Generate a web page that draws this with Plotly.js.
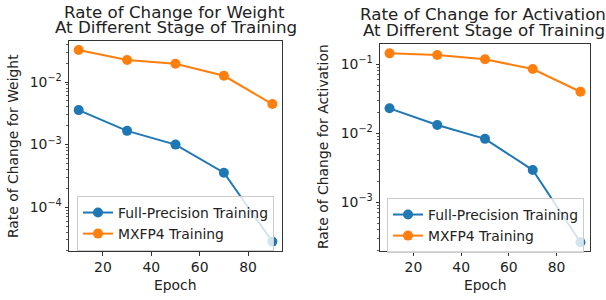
<!DOCTYPE html>
<html><head><meta charset="utf-8">
<script src="https://cdn.plot.ly/plotly-3.0.1.min.js"></script>
<style>html,body{margin:0;padding:0;background:#fff}#chart{width:606px;height:300px}</style>
</head><body><div id="chart"></div>
<script>
const epochs = [10, 30, 50, 70, 90];
const weightFull = [3.56e-3, 1.66e-3, 1.0e-3, 3.56e-4, 2.82e-5];
const weightMx = [3.25e-2, 2.25e-2, 1.96e-2, 1.26e-2, 4.45e-3];
const actFull = [2.3e-2, 1.32e-2, 8.3e-3, 2.93e-3, 2.63e-4];
const actMx = [0.144, 0.136, 0.118, 0.0855, 0.040];
const seriesNames = ["Full-Precision Training", "MXFP4 Training"];
const colors = ["#1f77b4", "#ff7f0e"];
const leftTicks = [1e-4, 1e-3, 1e-2];
const leftTickText = ["10<sup>−4</sup>", "10<sup>−3</sup>", "10<sup>−2</sup>"];
const rightTicks = [1e-3, 1e-2, 1e-1];
const rightTickText = ["10<sup>−3</sup>", "10<sup>−2</sup>", "10<sup>−1</sup>"];

const FONT = "DejaVu Sans";
function tr(x, y, i, xa, ya, leg) {
  return {x: x, y: y, name: seriesNames[i], type: "scatter", mode: "lines+markers",
    xaxis: xa, yaxis: ya, legend: leg,
    line: {color: colors[i], width: 2}, marker: {color: colors[i], size: 10}};
}
const data = [
  tr(epochs, weightFull, 0, "x", "y", "legend"),
  tr(epochs, weightMx, 1, "x", "y", "legend"),
  tr(epochs, actFull, 0, "x2", "y2", "legend2"),
  tr(epochs, actMx, 1, "x2", "y2", "legend2")
];
const xcommon = {range: [6, 94], tick0: 0, dtick: 20, ticks: "outside", ticklen: 3.5, tickwidth: 1,
  tickcolor: "#333", showline: true, mirror: true, linecolor: "#333", linewidth: 1,
  showgrid: false, zeroline: false, tickfont: {family: FONT, size: 13.9, color: "#222"}};
function ycommon(range, tv, tt) {
  return {type: "log", range: range, tickmode: "array", tickvals: tv, ticktext: tt,
    ticks: "outside", ticklen: 3.5, tickwidth: 1, tickcolor: "#333",
    minor: {dtick: "D1", ticks: "outside", ticklen: 2, tickwidth: 0.8, tickcolor: "#333", showgrid: false},
    showline: true, mirror: true, linecolor: "#333", linewidth: 1, showgrid: false, zeroline: false,
    tickfont: {family: FONT, size: 13.9, color: "#222"}};
}
const legBase = {bgcolor: "rgba(255,255,255,0.8)", bordercolor: "#cccccc", borderwidth: 1,
  font: {family: FONT, size: 13.9, color: "#222"}, xanchor: "left", yanchor: "top"};
function ann(text, x, y, size, opts) {
  return Object.assign({text: text, x: x, y: y, xref: "paper", yref: "paper", showarrow: false,
    xanchor: "center", yanchor: "middle", font: {family: FONT, size: size, color: "#222"}}, opts || {});
}
const TS = 16.7;
const layout = {
  width: 606, height: 300, margin: {l: 0, r: 0, t: 0, b: 0},
  paper_bgcolor: "#fff", plot_bgcolor: "#fff", font: {family: FONT},
  xaxis: Object.assign({domain: [69/606, 282/606], anchor: "y"}, xcommon),
  yaxis: Object.assign({domain: [1-251/300, 1-41/300], anchor: "x"}, ycommon([-4.70, -1.344], leftTicks, leftTickText)),
  xaxis2: Object.assign({domain: [380/606, 590/606], anchor: "y2"}, xcommon),
  yaxis2: Object.assign({domain: [1-251/300, 1-44/300], anchor: "x2"}, ycommon([-3.706, -0.706], rightTicks, rightTickText)),
  legend: Object.assign({x: 77/606, y: 1-196/300}, legBase),
  legend2: Object.assign({x: 387/606, y: 1-198/300}, legBase),
  annotations: [
    ann("Rate of Change for Weight", 174.5/606, 1, TS, {yanchor: "top"}),
    ann("At Different Stage of Training", 175.5/606, 1-26.5/300, TS),
    ann("Rate of Change for Activation", 483/606, 1-2/300, TS, {yanchor: "top"}),
    ann("At Different Stage of Training", 484/606, 1-29.5/300, TS),
    ann("Epoch", 175.5/606, 1-285/300, 13.9),
    ann("Epoch", 485/606, 1-285/300, 13.9),
    ann("Rate of Change for Weight", 13/606, 1-146/300, 13.9, {textangle: -90}),
    ann("Rate of Change for Activation", 323/606, 1-147/300, 13.9, {textangle: -90})
  ]
};
Plotly.newPlot("chart", data, layout, {displayModeBar: false, staticPlot: true});
</script></body></html>
